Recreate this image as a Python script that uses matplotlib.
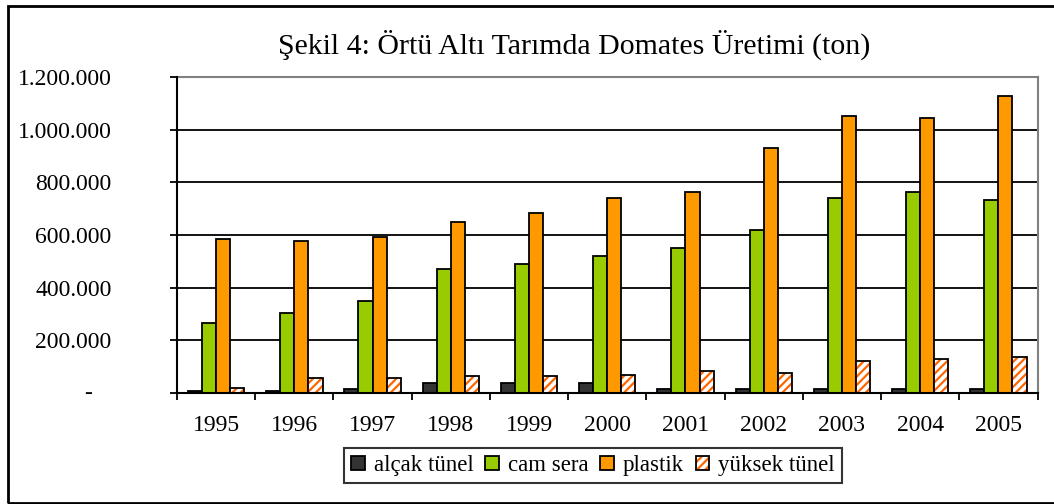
import matplotlib
matplotlib.use("Agg")
import matplotlib.pyplot as plt
import numpy as np
from matplotlib.patches import Rectangle, Patch
from matplotlib.ticker import FuncFormatter, FixedLocator

plt.rcParams['font.family'] = ['Liberation Serif', 'DejaVu Serif']
plt.rcParams['hatch.linewidth'] = 1.6

years = ['1995', '1996', '1997', '1998', '1999', '2000', '2001', '2002', '2003', '2004', '2005']
alcak_tunel = [8000, 7000, 16000, 39000, 39000, 38000, 15000, 15000, 15000, 15000, 15000]
cam_sera = [265000, 305000, 350000, 472000, 488000, 522000, 552000, 619000, 740000, 764000, 734000]
plastik = [586000, 579000, 593000, 648000, 684000, 740000, 764000, 930000, 1052000, 1044000, 1129000]
yuksek_tunel = [18000, 56000, 57000, 66000, 66000, 67000, 83000, 76000, 121000, 130000, 138000]

series_names = ['alçak tünel', 'cam sera', 'plastik', 'yüksek tünel']
title = 'Şekil 4: Örtü Altı Tarımda Domates Üretimi (ton)'

fig = plt.figure(figsize=(10.54, 5.04), dpi=100)
ax = fig.add_axes([177/1054, 1-393/504, (1037.5-177)/1054, (393-77)/504])

x = np.arange(len(years))
w = 0.18
offs = [-1.5*w, -0.5*w, 0.5*w, 1.5*w]

ax.bar(x+offs[0], alcak_tunel, w, color='#333333', edgecolor='black', lw=1.3, zorder=3)
ax.bar(x+offs[1], cam_sera, w, color='#99CC00', edgecolor='black', lw=1.3, zorder=3)
ax.bar(x+offs[2], plastik, w, color='#FF9900', edgecolor='black', lw=1.3, zorder=3)
ax.bar(x+offs[3], yuksek_tunel, w, facecolor='white', edgecolor='#FF6600', hatch='////', lw=0, zorder=3)
ax.bar(x+offs[3], yuksek_tunel, w, fill=False, edgecolor='black', lw=1.3, zorder=4)

ax.set_xlim(-0.5, len(years)-0.5)
ax.set_ylim(0, 1200000)

ax.yaxis.set_major_locator(FixedLocator(np.arange(0, 1200001, 200000)))
def fmt(v, pos):
    if v == 0:
        return ''
    return f'{int(v):,}'.replace(',', '.')
ax.yaxis.set_major_formatter(FuncFormatter(fmt))
ax.annotate('-', xy=(0, 0), xycoords=('axes fraction', 'data'), xytext=(-64, 0),
            textcoords='offset points', ha='center', va='center', fontsize=17)
ax.tick_params(axis='y', length=5, width=1.3, pad=42, labelsize=17, direction='out')

ax.set_xticks(x)
ax.set_xticklabels(years)
ax.set_xticks(np.arange(-0.5, len(years)), minor=True)
ax.tick_params(axis='x', which='major', length=0, pad=16, labelsize=17)
ax.tick_params(axis='x', which='minor', length=5, width=1.3, direction='out')

ax.grid(axis='y', color='black', lw=1.3, zorder=1)
ax.set_axisbelow(True)
for s in ['left', 'bottom']:
    ax.spines[s].set_color('black')
    ax.spines[s].set_linewidth(1.5)
    ax.spines[s].set_zorder(5)
for s in ['top', 'right']:
    ax.spines[s].set_color('#808080')
    ax.spines[s].set_linewidth(1.5)

fig.text(574/1054, 1-45/504, title, ha='center', va='center', fontsize=21.5)

handles = [
    Patch(facecolor='#333333', edgecolor='black', lw=1.3),
    Patch(facecolor='#99CC00', edgecolor='black', lw=1.3),
    Patch(facecolor='#FF9900', edgecolor='black', lw=1.3),
    (Patch(facecolor='white', edgecolor='#FF6600', hatch='////', lw=0),
     Patch(fill=False, edgecolor='black', lw=1.3)),
]
leg = fig.legend(handles, series_names, loc='center', bbox_to_anchor=(593/1054, 1-465.5/504),
                 ncol=4, fontsize=16.5, frameon=True, fancybox=False, handlelength=0.6,
                 handleheight=0.6, handletextpad=0.4, columnspacing=0.5, borderpad=0.3,
                 borderaxespad=0)
leg.get_frame().set_edgecolor('black')
leg.get_frame().set_linewidth(1.5)

fig.patches.append(Rectangle((8/1054, 1-503/504), 1.1, (503-6)/504, transform=fig.transFigure,
                             fill=False, edgecolor='black', lw=2, zorder=10))

fig.savefig('out.png', dpi=100)
